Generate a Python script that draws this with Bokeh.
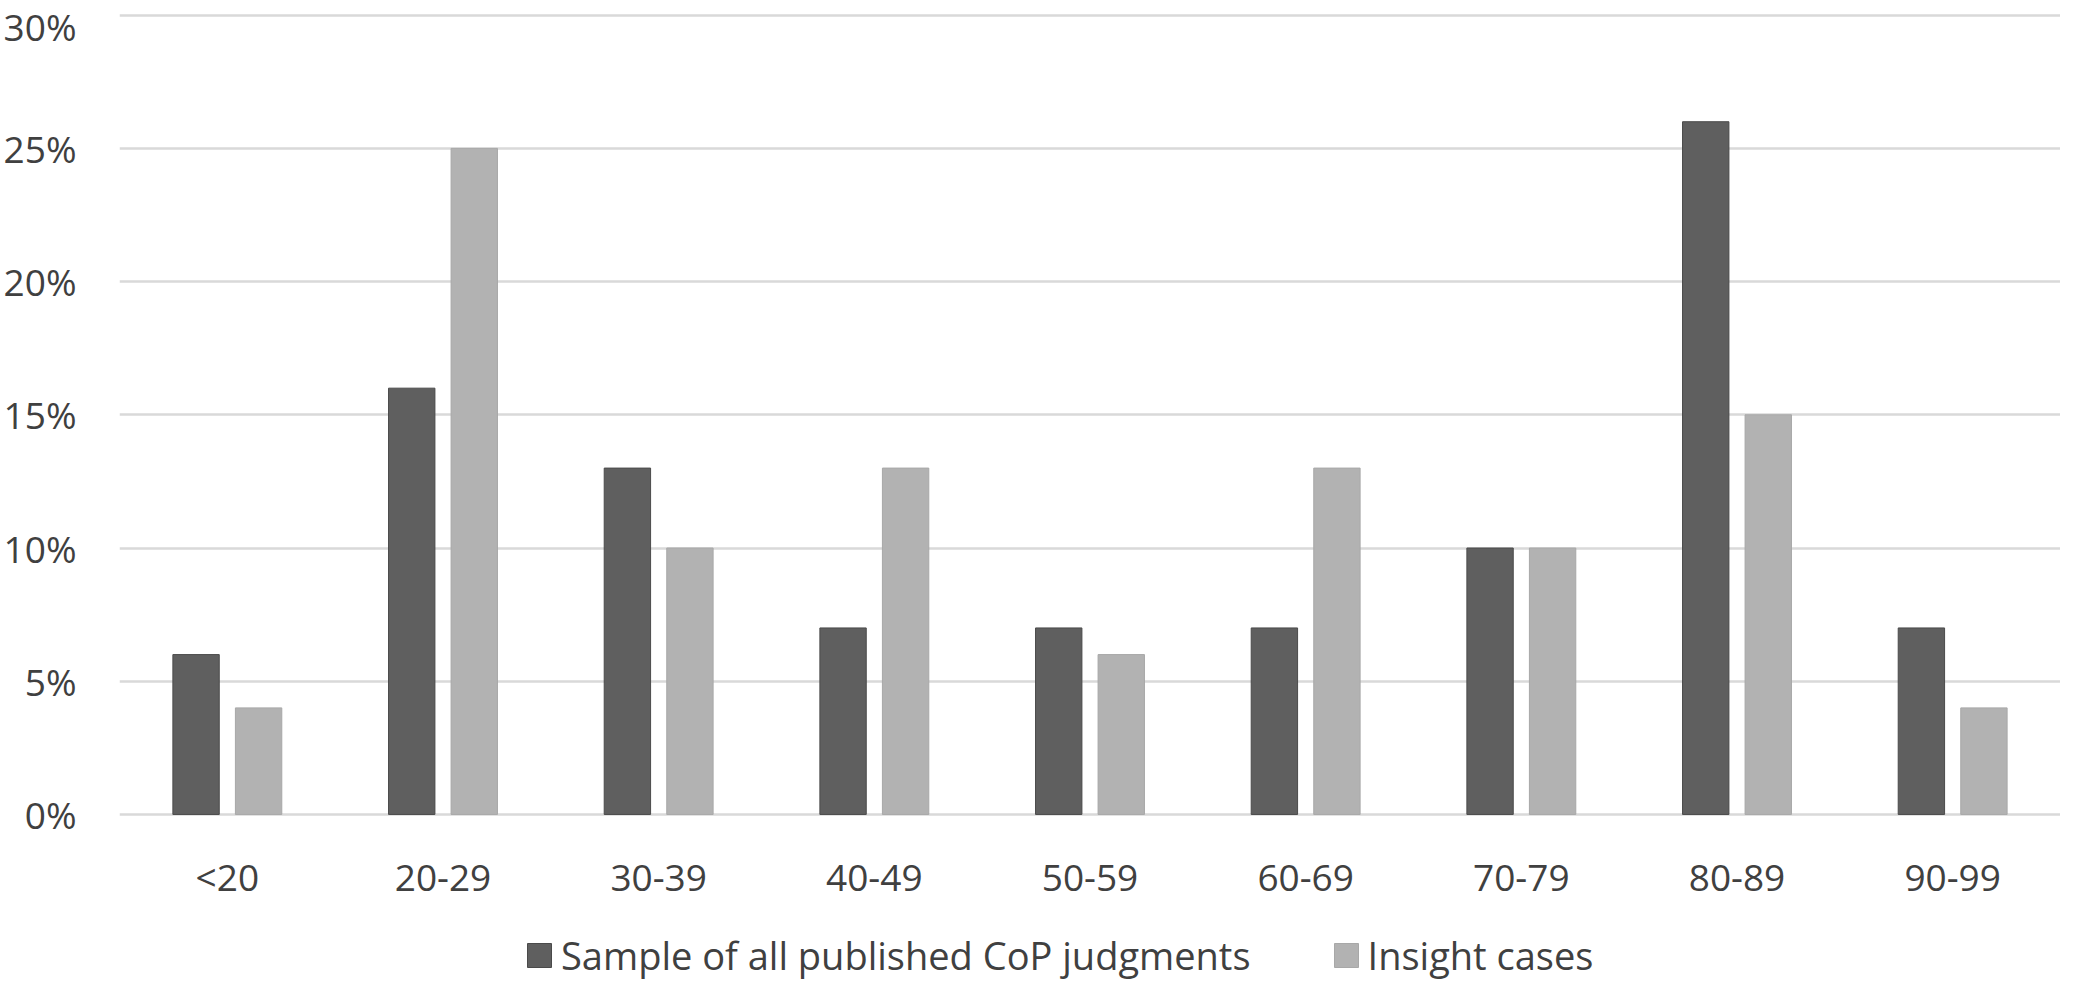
from bokeh.plotting import figure
from bokeh.models import ColumnDataSource, FactorRange, Range1d, FixedTicker, PrintfTickFormatter, Legend, LegendItem
from bokeh.transform import dodge
from bokeh.embed import file_html
from bokeh.resources import INLINE

categories = ["<20", "20-29", "30-39", "40-49", "50-59", "60-69", "70-79", "80-89", "90-99"]
sample_all = [6, 16, 13, 7, 7, 7, 10, 26, 7]
insight = [4, 25, 10, 13, 6, 13, 10, 15, 4]
y_ticks = [0, 5, 10, 15, 20, 25, 30]
series_names = ["Sample of all published CoP judgments", "Insight cases"]

FONT = "Open Sans"
TXT = "#404040"

src = ColumnDataSource(dict(cat=categories, a=sample_all, b=insight))

p = figure(width=2060, height=981, output_backend="svg", toolbar_location=None,
           x_range=FactorRange(factors=categories), y_range=Range1d(-6.27, 30.25),
           min_border_left=108, min_border_right=0, min_border_top=8, min_border_bottom=0)
p.outline_line_color = None
p.background_fill_color = "white"
p.border_fill_color = "white"

r1 = p.vbar(x=dodge("cat", -0.145, range=p.x_range), top="a", width=0.215, source=src,
            fill_color="#5f5f5f", line_color="#4a4a4a", line_width=1)
r2 = p.vbar(x=dodge("cat", 0.145, range=p.x_range), top="b", width=0.215, source=src,
            fill_color="#b2b2b2", line_color="#a8a8a8", line_width=1)

p.xgrid.grid_line_color = None
p.ygrid.grid_line_color = "#d9d9d9"
p.ygrid.grid_line_width = 2.5
p.ygrid.ticker = FixedTicker(ticks=y_ticks)

p.yaxis.ticker = FixedTicker(ticks=y_ticks)
p.yaxis.formatter = PrintfTickFormatter(format="%d%%")
p.xaxis.fixed_location = 0
for ax in (p.xaxis[0], p.yaxis[0]):
    ax.axis_line_color = None
    ax.major_tick_line_color = None
    ax.minor_tick_line_color = None
    ax.major_tick_out = 0
    ax.major_tick_in = 0
    ax.major_label_text_font = FONT
    ax.major_label_text_font_size = "37px"
    ax.major_label_text_color = TXT
p.yaxis.major_label_standoff = 43
p.xaxis.major_label_standoff = 37

legend = Legend(items=[LegendItem(label=series_names[0], renderers=[r1]),
                       LegendItem(label=series_names[1], renderers=[r2])],
                orientation="horizontal", location=(405, 0),
                glyph_width=30, glyph_height=30, label_standoff=7, spacing=80,
                padding=0, margin=0, border_line_color=None, background_fill_alpha=0,
                label_text_font=FONT, label_text_font_size="38px", label_text_color=TXT)
p.add_layout(legend)

open("out.html", "w").write(file_html(p, INLINE))
